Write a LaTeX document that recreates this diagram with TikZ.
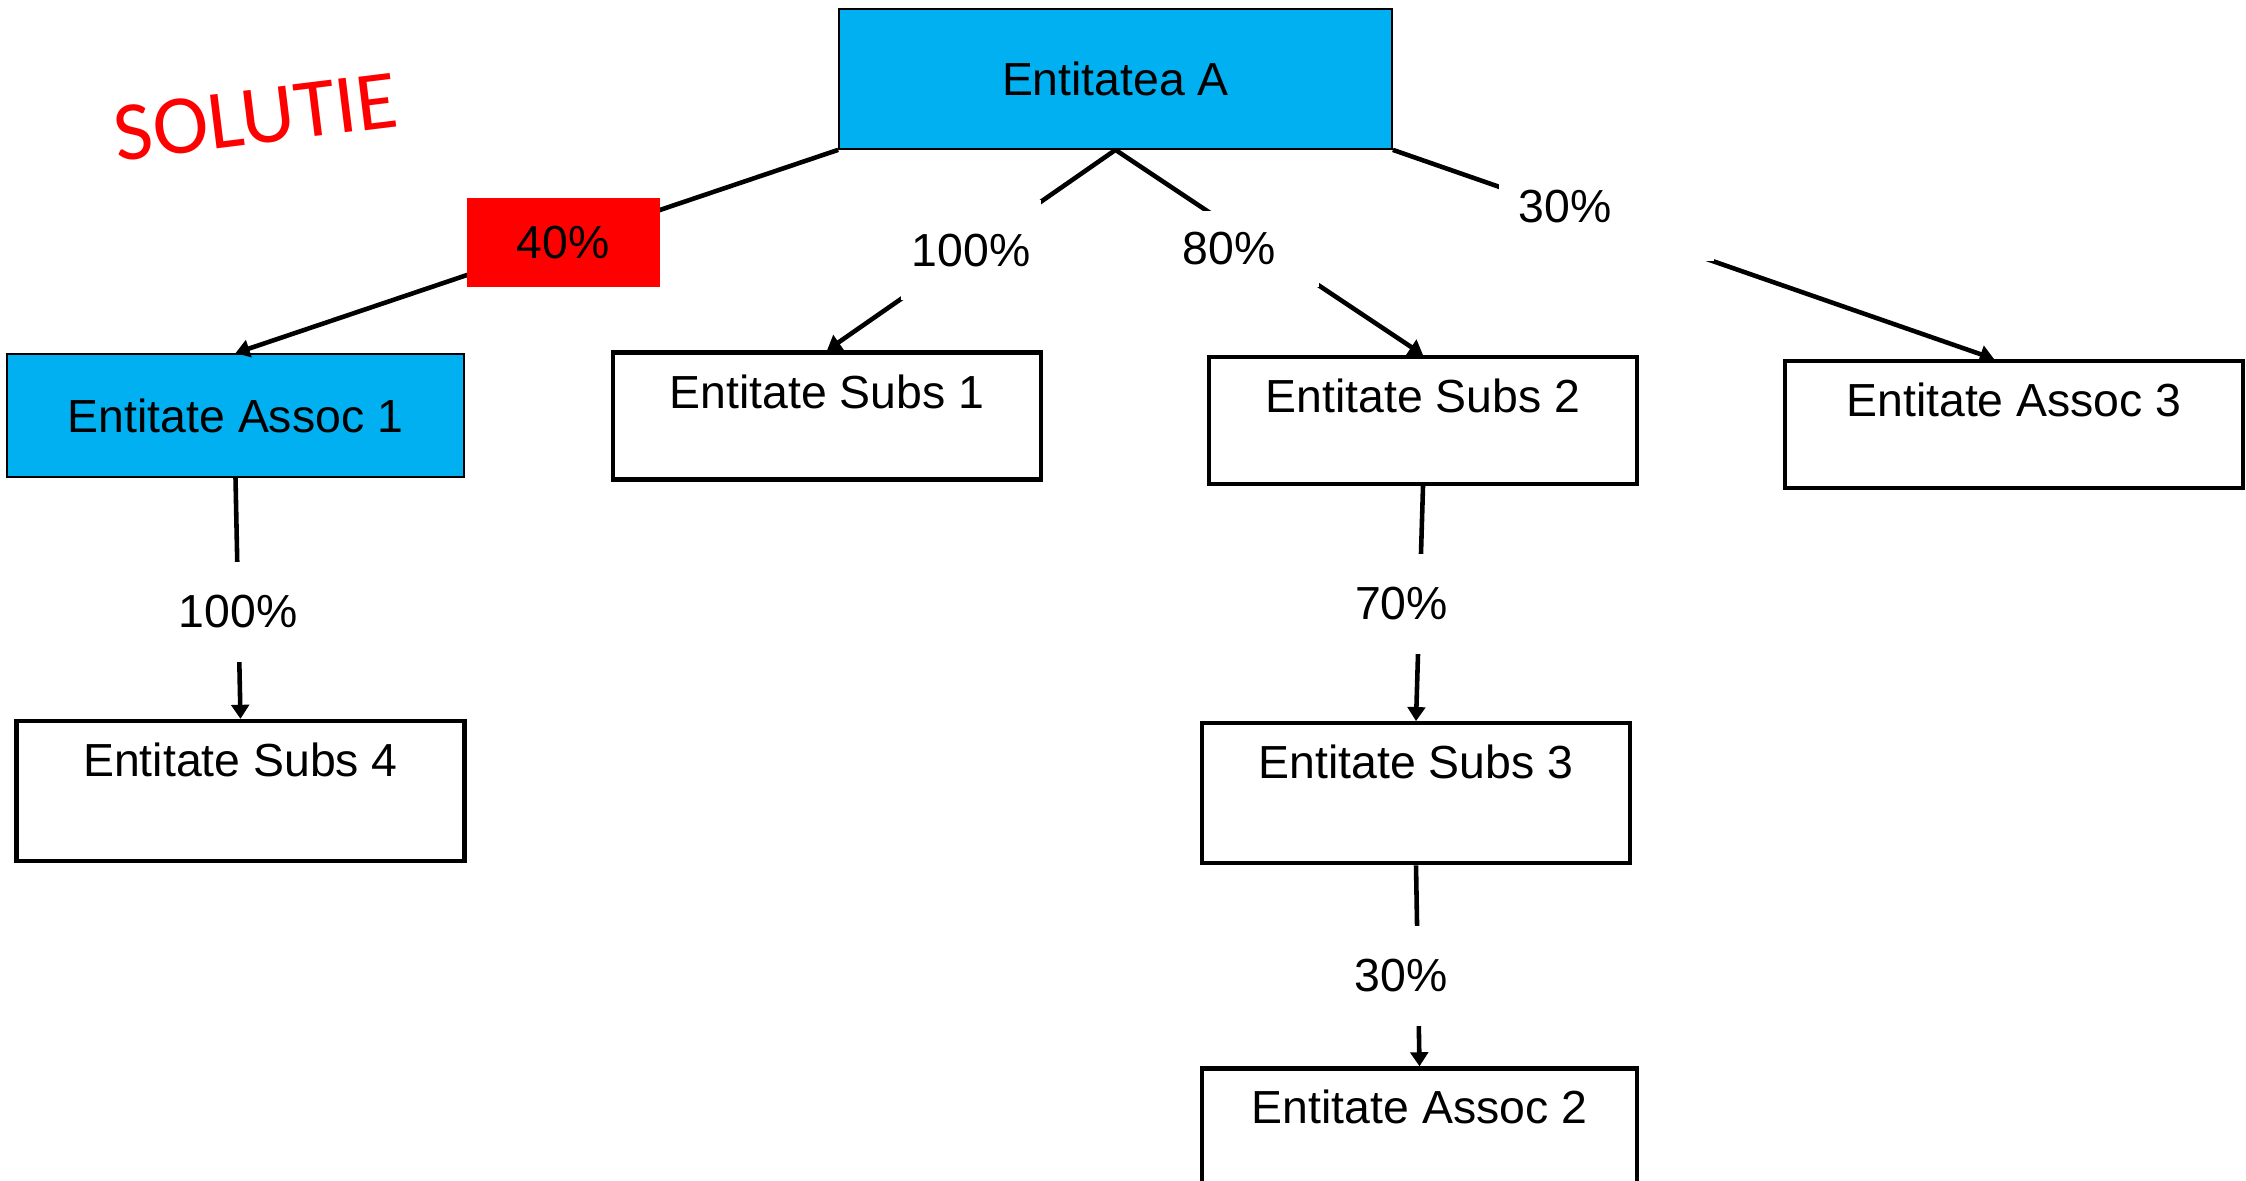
\documentclass[tikz,border=0pt]{standalone}
\usepackage{fontspec}
\setmainfont{Liberation Sans}
\newfontfamily\solfont{Carlito}
\usepackage{xcolor}
\usetikzlibrary{shapes,arrows.meta,positioning}
\definecolor{entblue}{HTML}{00B0F0}
\definecolor{pctred}{HTML}{FF0000}

\begin{document}
\begin{tikzpicture}[
    font=\fontsize{13.2}{16}\selectfont,
    bluebox/.style={rectangle, draw, fill=entblue, line width=0.5pt, inner sep=0pt, align=center},
    subsbox/.style={rectangle, draw, line width=1.2pt, inner sep=0pt, minimum height=1.27cm, text height=3.4mm, text depth=5mm},
    tallbox/.style={subsbox, minimum height=1.4cm, text depth=6.3mm},
    pct/.style={fill=white, inner sep=0pt, minimum height=1cm},
    redpct/.style={fill=pctred, inner sep=0pt, minimum width=1.93cm, minimum height=0.89cm},
    arrow/.style={-{Triangle[length=4pt, width=5pt]}, line width=1.3pt}
]
\useasboundingbox (0,0) rectangle (22.46,-11.81);
\clip (0,0) rectangle (22.46,-11.81);

\node[text=pctred, rotate=7, font=\solfont\fontsize{23.9}{28}\selectfont] (sol) at (2.56,-1.17) {SOLUTIE};

\node[bluebox, minimum width=5.53cm, minimum height=1.4cm] (entA) at (11.155,-0.79) {Entitatea A};
\node[bluebox, minimum width=4.57cm, minimum height=1.23cm] (assoc1) at (2.355,-4.155) {Entitate Assoc 1};
\node[subsbox, minimum width=4.28cm] (subs1) at (8.27,-4.16) {Entitate Subs 1};
\node[subsbox, minimum width=4.28cm] (subs2) at (14.23,-4.205) {Entitate Subs 2};
\node[subsbox, minimum width=4.58cm] (assoc3) at (20.14,-4.245) {Entitate Assoc 3};
\node[tallbox, minimum width=4.48cm, below=2.41cm of assoc1, xshift=0.05cm] (subs4) {Entitate Subs 4};
\node[tallbox, minimum width=4.28cm, below=2.35cm of subs2, xshift=-0.07cm] (subs3) {Entitate Subs 3};
\node[tallbox, minimum width=4.35cm, below=2.01cm of subs3, xshift=0.035cm] (assoc2) {Entitate Assoc 2};

\draw[arrow] (entA.south west) -- node[redpct, pos=.456] (p40) {40\%} (assoc1.north);
\draw[arrow] (entA.south) -- node[pct, minimum width=1.4cm, pos=.5] (p100a) {100\%} (subs1.north);
\draw[arrow] (entA.south) -- node[pct, pos=.37, yshift=-2.3mm, minimum width=1.8cm, minimum height=7.6mm] (p80) {80\%} (subs2.north);
\draw[arrow] (entA.south east) -- node[pct, pos=.355, yshift=1.8mm, text width=1.75cm, inner xsep=2mm, align=left, minimum height=1.1cm] (p30a) {30\%} ([xshift=-2mm]assoc3.north);
\draw[arrow] (assoc1.south) -- node[pct, pos=.555] (p100b) {100\%} (subs4.north);
\draw[arrow] (subs2.south) -- node[pct, pos=.5, xshift=-1.8mm] (p70) {70\%} (subs3.north);
\draw[arrow] (subs3.south) -- node[pct, pos=.55, xshift=-1.7mm] (p30b) {30\%} (assoc2.north);

\end{tikzpicture}
\end{document}
